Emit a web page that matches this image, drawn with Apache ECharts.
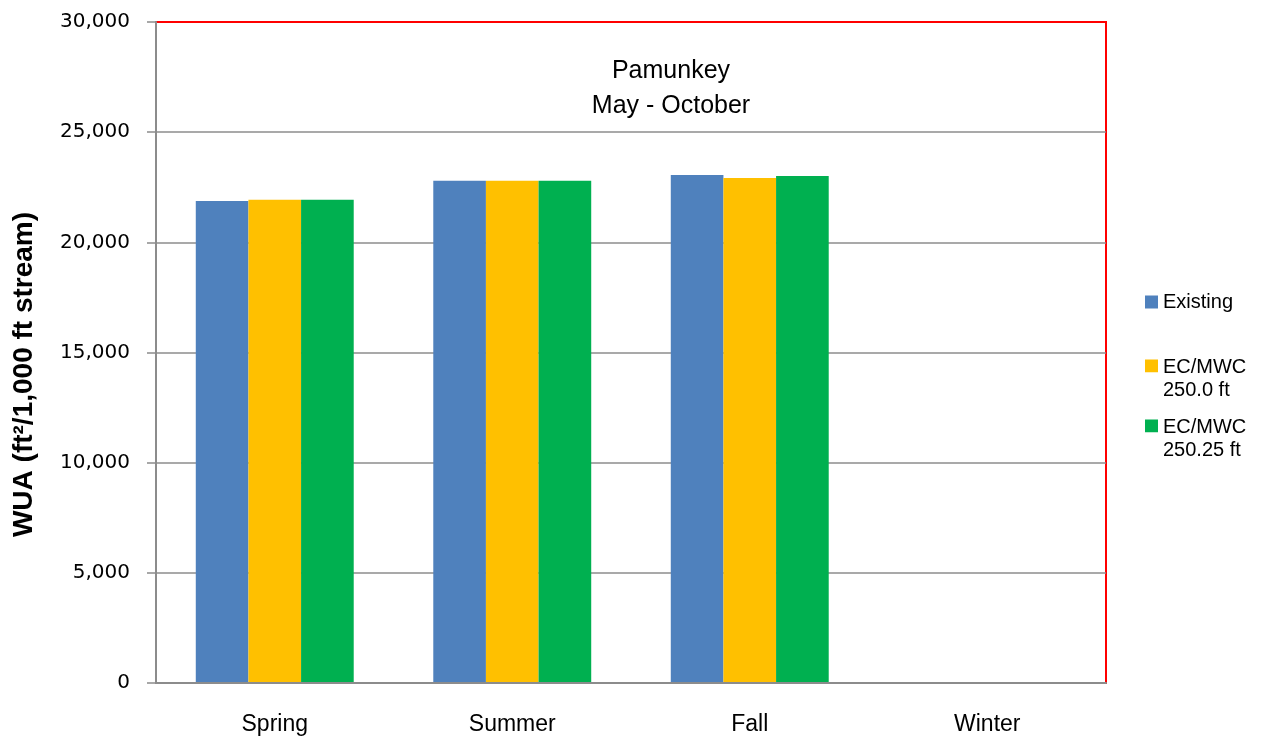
<!DOCTYPE html>
<html>
<head>
<meta charset="utf-8">
<script src="https://cdn.jsdelivr.net/npm/echarts@6/dist/echarts.min.js"></script>
<style>
  html, body { margin: 0; padding: 0; background: #fff; }
  #chart { width: 1268px; height: 740px; }
</style>
</head>
<body>
<div id="chart"></div>
<script>
const seasons = ['Spring', 'Summer', 'Fall', 'Winter']
const existing = [21880, 22790, 23060, 0]
const ecmwc2500 = [21930, 22790, 22920, 0]
const ecmwc25025 = [21930, 22790, 23010, 0]
const yTicks = { min: 0, max: 30000, interval: 5000 }

// square sits on the first text line of a two-line legend entry
const topSquare = 'path://M0,0L10,0M0,2.6H10V12.6H0Z M0,35.4L10,35.4'

// gridlines from 0 up to 30,000: the bottom and top ones are part of the red frame
const gridColors = ['#ff8080', '#8c8c8c', '#8c8c8c', '#8c8c8c', '#8c8c8c', '#8c8c8c', '#ff0000']

const chart = echarts.init(document.getElementById('chart'))
chart.setOption({
  animation: false,
  title: {
    text: 'Pamunkey\nMay - October',
    left: 666,
    top: 49,
    textAlign: 'center',
    textStyle: {
      fontFamily: 'Liberation Sans',
      fontSize: 25,
      fontWeight: 'normal',
      color: '#000',
      lineHeight: 35
    }
  },
  grid: {
    left: 156,
    right: 162,
    top: 22,
    bottom: 57,
    show: true,
    borderColor: '#ff0000',
    borderWidth: 2,
    backgroundColor: '#fff'
  },
  legend: [
    {
      orient: 'vertical',
      left: 1140,
      top: 287,
      itemWidth: 13,
      itemHeight: 13,
      icon: 'rect',
      data: ['Existing'],
      textStyle: { fontFamily: 'Liberation Sans', fontSize: 20, color: '#000' }
    },
    {
      orient: 'vertical',
      left: 1140,
      top: 351,
      itemGap: 14,
      itemWidth: 13,
      itemHeight: 46,
      icon: topSquare,
      data: ['EC/MWC 250.0 ft', 'EC/MWC 250.25 ft'],
      formatter: name => name.replace(' ', '\n'),
      textStyle: { fontFamily: 'Liberation Sans', fontSize: 20, color: '#000', lineHeight: 23 }
    }
  ],
  xAxis: {
    type: 'category',
    data: seasons,
    z: 3,
    axisLine: { lineStyle: { color: '#8c8c8c', width: 2 } },
    axisTick: { show: false },
    axisLabel: {
      margin: 30,
      fontFamily: 'Liberation Sans',
      fontSize: 23,
      color: '#000'
    }
  },
  yAxis: {
    type: 'value',
    min: yTicks.min,
    max: yTicks.max,
    interval: yTicks.interval,
    name: 'WUA (ft²/1,000 ft stream)',
    nameLocation: 'middle',
    nameGap: 118,
    nameTextStyle: {
      fontFamily: 'Liberation Sans',
      fontSize: 28,
      fontWeight: 'bold',
      color: '#000',
      padding: [0, 44, 0, 0]
    },
    axisLine: { show: true, lineStyle: { color: '#8c8c8c', width: 2 } },
    axisTick: { show: true, length: 9, lineStyle: { color: '#8c8c8c', width: 1.5 } },
    axisLabel: {
      margin: 26,
      fontFamily: 'DejaVu Sans',
      fontSize: 20,
      color: '#000',
      formatter: v => v.toLocaleString('en-US')
    },
    splitLine: { lineStyle: { color: gridColors, width: 1.5 } }
  },
  series: [
    {
      name: 'Existing',
      type: 'bar',
      data: existing,
      barGap: '0%',
      barCategoryGap: '33.5%',
      itemStyle: { color: '#4f81bd' }
    },
    {
      name: 'EC/MWC 250.0 ft',
      type: 'bar',
      data: ecmwc2500,
      itemStyle: { color: '#ffc000' }
    },
    {
      name: 'EC/MWC 250.25 ft',
      type: 'bar',
      data: ecmwc25025,
      itemStyle: { color: '#00b050' }
    }
  ]
})
</script>
</body>
</html>
